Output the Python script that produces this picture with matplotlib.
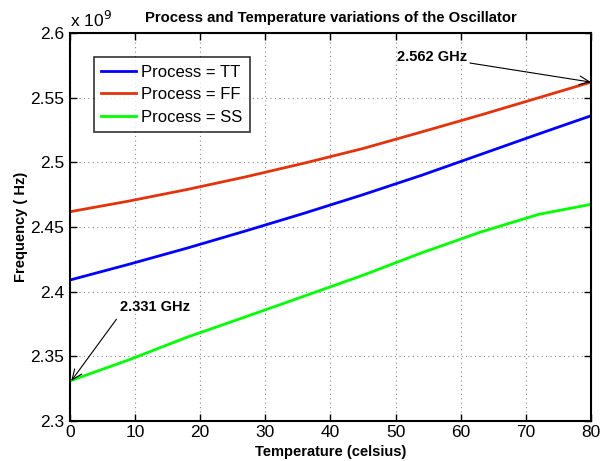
import matplotlib
matplotlib.use("Agg")
import matplotlib.pyplot as plt
from matplotlib.ticker import FuncFormatter, MultipleLocator

plt.rcParams['font.family'] = ['Liberation Sans', 'DejaVu Sans']

temperature = [0, 9, 18, 27, 36, 45, 54, 63, 72, 80]
freq_tt = [2.409, 2.4211, 2.4337, 2.4470, 2.4607, 2.4750, 2.4900, 2.5060, 2.5220, 2.536]
freq_ff = [2.4618, 2.4700, 2.4790, 2.4888, 2.4994, 2.5107, 2.5235, 2.5365, 2.5500, 2.562]
freq_ss = [2.331, 2.3472, 2.3648, 2.3806, 2.3966, 2.4127, 2.4300, 2.4460, 2.4598, 2.4675]
labels = ["Process = TT", "Process = FF", "Process = SS"]
colors = ["#0000FF", "#E3330D", "#00FF00"]

fig = plt.figure(figsize=(6.08, 4.61), dpi=100)
ax = fig.add_axes([0.1151, 0.0868, 0.8569, 0.8416])

for vals, lab, col in zip([freq_tt, freq_ff, freq_ss], labels, colors):
    ax.plot(temperature, [v * 1e9 for v in vals], color=col, lw=2, label=lab)

ax.set_xlim(0, 80)
ax.set_ylim(2.3e9, 2.6e9)
ax.xaxis.set_major_locator(MultipleLocator(10))
ax.yaxis.set_major_locator(MultipleLocator(0.05e9))
ax.yaxis.set_major_formatter(FuncFormatter(lambda v, p: "%g" % round(v / 1e9, 4)))
ax.grid(True, linestyle=(0, (1, 3)), color="#888888", linewidth=0.8)
ax.tick_params(direction="in", top=True, right=True, labelsize=12.5, length=5, width=1, pad=4)
ax.tick_params(axis="x", pad=3)
for s in ax.spines.values():
    s.set_linewidth(1.5)

ax.set_title("Process and Temperature variations of the Oscillator", fontsize=10.7, fontweight="bold", pad=8)
fig.text(331 / 608, 1 - 452 / 461, "Temperature (celsius)", fontsize=10.5, fontweight="bold",
         ha="center", va="center")
fig.text(21 / 608, 1 - 227 / 461, "Frequency ( Hz)", fontsize=10.5, fontweight="bold",
         ha="center", va="center", rotation=90)
fig.text(0.115, 0.935, r"x 10$^9$", fontsize=12.5, ha="left", va="bottom")

leg = ax.legend(loc="upper left", bbox_to_anchor=(0.046, 0.938), fontsize=12, frameon=True,
                fancybox=False, edgecolor="black", handlelength=2.1, borderpad=0.45,
                labelspacing=0.45, handletextpad=0.3, borderaxespad=0)
leg.get_frame().set_linewidth(1.2)

arrow = dict(arrowstyle="->,head_length=0.7,head_width=0.3", color="black", lw=0.8)
ax.annotate("2.562 GHz", xy=(80, 2.562e9), xytext=(61, 2.5814e9), ha="right", va="center",
            fontsize=10.5, fontweight="bold",
            arrowprops=dict(arrow, shrinkA=0, shrinkB=0))
ax.annotate("2.331 GHz", xy=(0.2, 2.331e9), xytext=(7.7, 2.388e9), ha="left", va="center",
            fontsize=10.5, fontweight="bold",
            arrowprops=dict(arrow, shrinkA=2, shrinkB=0, relpos=(0, 0)))

fig.savefig("out.png", dpi=100)
